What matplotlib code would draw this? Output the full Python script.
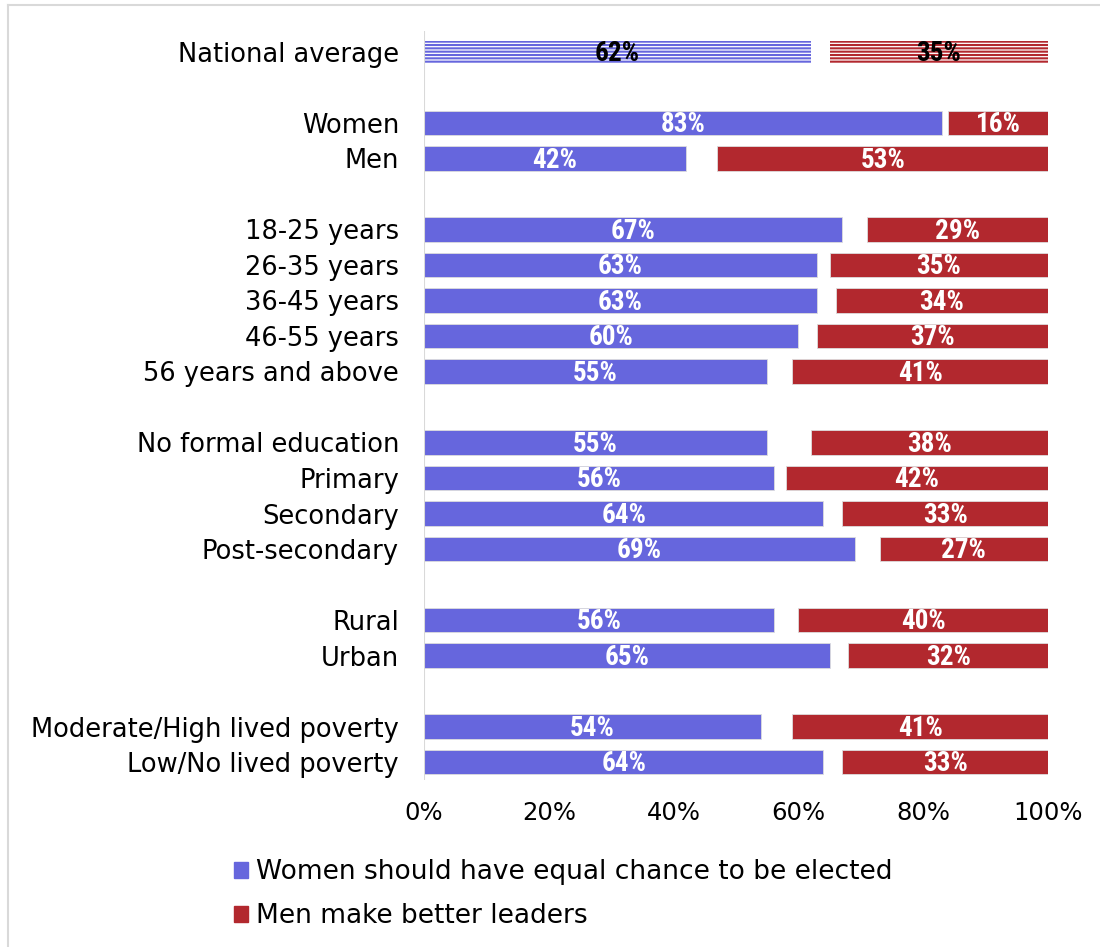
import matplotlib
matplotlib.use('Agg')
import matplotlib.pyplot as plt
from matplotlib import font_manager
import numpy as np

### data ###
categories = ['National average', 'Women', 'Men',
              '18-25 years', '26-35 years', '36-45 years', '46-55 years', '56 years and above',
              'No formal education', 'Primary', 'Secondary', 'Post-secondary',
              'Rural', 'Urban',
              'Moderate/High lived poverty', 'Low/No lived poverty']
rows = [0, 2, 3, 5, 6, 7, 8, 9, 11, 12, 13, 14, 16, 17, 19, 20]
equal_chance = [62, 83, 42, 67, 63, 63, 60, 55, 55, 56, 64, 69, 56, 65, 54, 64]
men_better = [35, 16, 53, 29, 35, 34, 37, 41, 38, 42, 33, 27, 40, 32, 41, 33]
series_names = ['Women should have equal chance to be elected', 'Men make better leaders']

blue = '#6666DD'
red = '#B2282E'

names = {f.name for f in font_manager.fontManager.ttflist}
lab_font = 'DejaVu Sans'
for cand in ['DejaVu Sans Condensed', 'Liberation Sans Narrow', 'Roboto Condensed']:
    if cand in names:
        lab_font = cand
        break
plt.rcParams['font.family'] = ['DejaVu Sans']
plt.rcParams['hatch.linewidth'] = 1.5

fig = plt.figure(figsize=(11, 9.47), dpi=100)
ax = fig.add_axes([0.3855, 0.1766, 0.5673, 0.791])

y = np.array(rows)
for i, r in enumerate(rows):
    b = equal_chance[i]
    m = men_better[i]
    if i == 0:
        ax.barh(r, b, height=0.62, color='white', edgecolor=blue, hatch='-----', linewidth=0)
        ax.barh(r, m, left=100 - m, height=0.62, color='white', edgecolor=red, hatch='-----', linewidth=0)
        tc = 'black'
    else:
        ax.barh(r, b, height=0.68, color=blue, edgecolor='#dddddd', linewidth=0.6)
        ax.barh(r, m, left=100 - m, height=0.68, color=red, edgecolor='#dddddd', linewidth=0.6)
        tc = 'white'
    ax.text(b / 2, r + 0.05, '{}%'.format(b), ha='center', va='center', color=tc,
            fontsize=19.5, fontweight='bold', family=lab_font)
    ax.text(100 - m / 2, r + 0.05, '{}%'.format(m), ha='center', va='center', color=tc,
            fontsize=19.5, fontweight='bold', family=lab_font)

ax.set_xlim(0, 100)
ax.set_ylim(20.5, -0.6)
ax.set_yticks(y)
ax.set_yticklabels(categories, fontsize=18.5)
ax.set_xticks(np.arange(0, 101, 20))
ax.set_xticklabels(['{}%'.format(v) for v in range(0, 101, 20)], fontsize=17.5)
ax.tick_params(axis='both', length=0)
ax.tick_params(axis='x', pad=15)
ax.tick_params(axis='y', pad=18)
for s in ax.spines.values():
    s.set_visible(False)
ax.axvline(0, color='#d9d9d9', linewidth=1.5)

# legend
h1 = plt.Rectangle((0, 0), 1, 1, color=blue)
h2 = plt.Rectangle((0, 0), 1, 1, color=red)
fig.legend([h1, h2], series_names, loc='upper left', bbox_to_anchor=(0.203, 0.104),
           frameon=False, fontsize=19, handlelength=0.55, handleheight=0.55,
           handletextpad=0.3, labelspacing=0.68, borderaxespad=0)

# outer frame
fig.add_artist(plt.Line2D([0.007, 0.007], [0, 0.995], color='#d9d9d9', linewidth=1.5, transform=fig.transFigure))
fig.add_artist(plt.Line2D([0.007, 1], [0.995, 0.995], color='#d9d9d9', linewidth=1.5, transform=fig.transFigure))

fig.savefig('out.png', dpi=100)
